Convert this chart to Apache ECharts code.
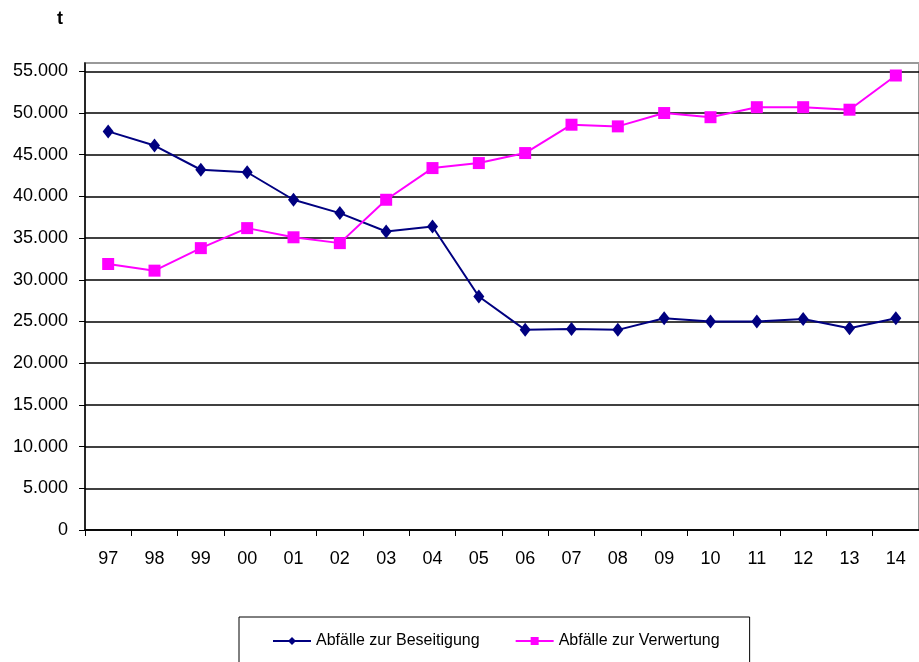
<!DOCTYPE html>
<html>
<head>
<meta charset="utf-8">
<script src="https://cdn.jsdelivr.net/npm/echarts@6/dist/echarts.min.js"></script>
<style>
  html, body { margin: 0; padding: 0; background: #fff; }
  #chart { width: 919px; height: 662px; }
</style>
</head>
<body>
<div id="chart"></div>
<script>
// Jahre (Achsenbeschriftung)
const years = ['97', '98', '99', '00', '01', '02', '03', '04', '05', '06', '07', '08', '09', '10', '11', '12', '13', '14']

// Abfälle in t
const beseitigung = [47800, 46100, 43200, 42900, 39600, 38000, 35800, 36400, 28000, 24000, 24100, 24000, 25400, 25000, 25000, 25300, 24200, 25400]
const verwertung = [31900, 31100, 33800, 36200, 35100, 34400, 39600, 43400, 44000, 45200, 48600, 48400, 50000, 49500, 50700, 50700, 50400, 54500]

const fontFamily = 'Liberation Sans, Arial, sans-serif'

const chart = echarts.init(document.getElementById('chart'))

const option = {
  animation: false,
  backgroundColor: '#fff',
  title: {
    text: 't',
    left: 52,
    top: 5,
    textStyle: { fontFamily, fontSize: 18, fontWeight: 'bold', color: '#000' }
  },
  grid: {
    left: 85,
    top: 63,
    width: 846,
    height: 467,
    show: true,
    borderColor: '#999',
    borderWidth: 2
  },
  legend: {
    left: 239,
    top: 617,
    padding: [16, 30, 20, 33],
    itemGap: 35,
    itemWidth: 38,
    itemHeight: 10,
    borderColor: '#000',
    borderWidth: 1,
    textStyle: { fontFamily, fontSize: 16, color: '#000' },
    data: ['Abfälle zur Beseitigung', 'Abfälle zur Verwertung']
  },
  xAxis: {
    type: 'category',
    data: years,
    boundaryGap: true,
    axisLine: { lineStyle: { color: '#000', width: 1.5 } },
    axisTick: { show: true, length: 6, lineStyle: { color: '#000' } },
    axisLabel: { interval: 0, margin: 20, fontFamily, fontSize: 18, color: '#000' },
    splitLine: { show: false }
  },
  yAxis: {
    type: 'value',
    min: 0,
    max: 56000,
    interval: 5000,
    axisLine: { show: true, lineStyle: { color: '#000', width: 1.5 } },
    axisTick: { show: true, length: 6, lineStyle: { color: '#000' } },
    axisLabel: {
      showMaxLabel: false,
      margin: 17,
      fontFamily,
      fontSize: 18,
      color: '#000',
      formatter: v => v.toLocaleString('de-DE')
    },
    splitLine: { show: true, showMaxLine: false, lineStyle: { color: '#000', width: 1.5 } }
  },
  series: [
    {
      name: 'Abfälle zur Beseitigung',
      type: 'line',
      data: beseitigung,
      symbol: 'diamond',
      symbolSize: [11, 14],
      color: '#000080',
      lineStyle: { color: '#000080', width: 2 },
      itemStyle: { color: '#000080' }
    },
    {
      name: 'Abfälle zur Verwertung',
      type: 'line',
      data: verwertung,
      symbol: 'rect',
      symbolSize: 12,
      color: '#ff00ff',
      lineStyle: { color: '#ff00ff', width: 2 },
      itemStyle: { color: '#ff00ff' }
    }
  ]
}

chart.setOption(option)
</script>
</body>
</html>
